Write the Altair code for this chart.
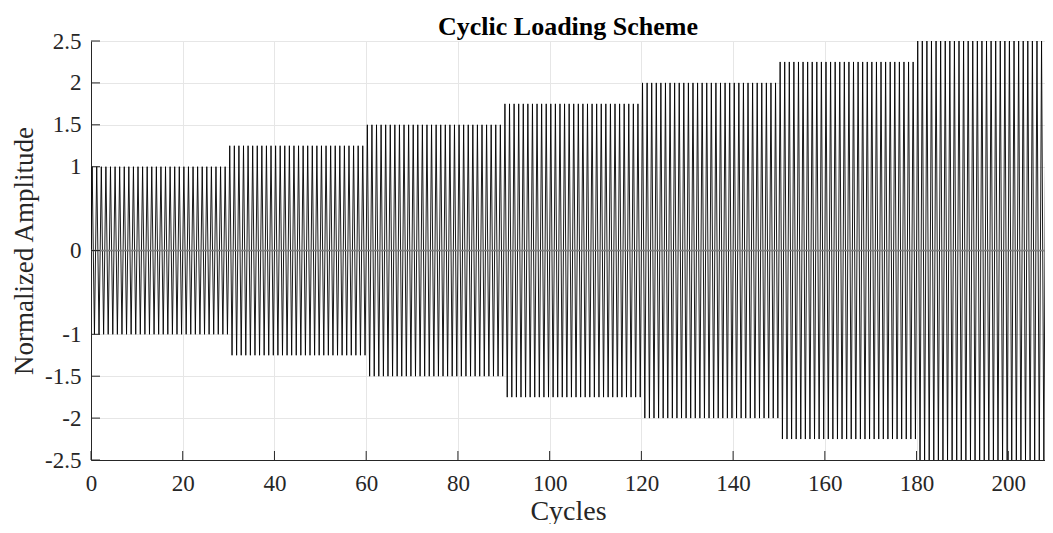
import altair as alt
import pandas as pd

# Amplitude levels of the loading steps and cycles per step
step_amplitudes = [1.0, 1.25, 1.5, 1.75, 2.0, 2.25, 2.5]
cycles_per_step = [30, 30, 30, 30, 30, 30, 30]
y_ticks = [-2.5, -2, -1.5, -1, 0, 1, 1.5, 2, 2.5]
x_ticks = [0, 20, 40, 60, 80, 100, 120, 140, 160, 180, 200]

# Peak points of each cycle: +A at quarter cycle, -A at three-quarter cycle
t_vals, a_vals = [0.0], [0.0]
start = 0
for amp, n in zip(step_amplitudes, cycles_per_step):
    for c in range(n):
        t0 = start + c
        t_vals += [t0 + 0.25, t0 + 0.75, t0 + 1.0]
        a_vals += [amp, -amp, 0.0]
    start += n
df = pd.DataFrame({"cycle": t_vals, "amp": a_vals})

FONT = "Liberation Serif"
xscale = alt.Scale(domain=[0, 208], nice=False, zero=False)
yscale = alt.Scale(domain=[-2.5, 2.5], nice=False)
LBL = "'' + datum.value"

line = alt.Chart(df).mark_line(color="black", strokeWidth=0.9, clip=True).encode(
    x=alt.X("cycle:Q", scale=xscale,
            axis=alt.Axis(title="Cycles", values=x_ticks, grid=True, gridColor="#e6e6e6",
                          tickSize=0, domainColor="#262626", labelPadding=12,
                          labelFlush=False, labelExpr=LBL, titlePadding=2)),
    y=alt.Y("amp:Q", scale=yscale,
            axis=alt.Axis(title="Normalized Amplitude", values=y_ticks, grid=True,
                          gridColor="#e6e6e6", tickSize=0, domainColor="#262626",
                          labelPadding=10, labelFlush=False, labelExpr=LBL,
                          titlePadding=6, titleFontSize=27)),
)

zero = alt.Chart(pd.DataFrame({"y": [0]})).mark_rule(color="#808080", strokeWidth=1.5).encode(
    y=alt.Y("y:Q", scale=yscale)
)

ytick_df = pd.DataFrame({"v": y_ticks})
yt = alt.Chart(ytick_df).mark_rule(color="#262626", strokeWidth=1).encode(
    y=alt.Y("v:Q", scale=yscale), x=alt.value(0), x2=alt.value(9)
)
xtick_df = pd.DataFrame({"v": x_ticks})
xt = alt.Chart(xtick_df).mark_rule(color="#262626", strokeWidth=1).encode(
    x=alt.X("v:Q", scale=xscale), y=alt.value(419), y2=alt.value(410)
)

chart = alt.layer(line, zero, yt, xt).properties(
    width=954, height=419,
    title=alt.TitleParams("Cyclic Loading Scheme", font=FONT, fontSize=26,
                          fontWeight="bold", color="black", offset=3, dy=13),
    autosize=alt.AutoSizeParams(type="none"),
    padding={"left": 83, "top": 33, "right": 0, "bottom": 64},
).configure_axis(
    labelFont=FONT, labelFontSize=23, labelColor="#262626",
    titleFont=FONT, titleFontSize=28, titleColor="#262626", titleFontWeight="normal",
    domainWidth=1,
).configure_view(stroke=None)

chart.save("out.html", embed_options={"renderer": "svg", "actions": False})
